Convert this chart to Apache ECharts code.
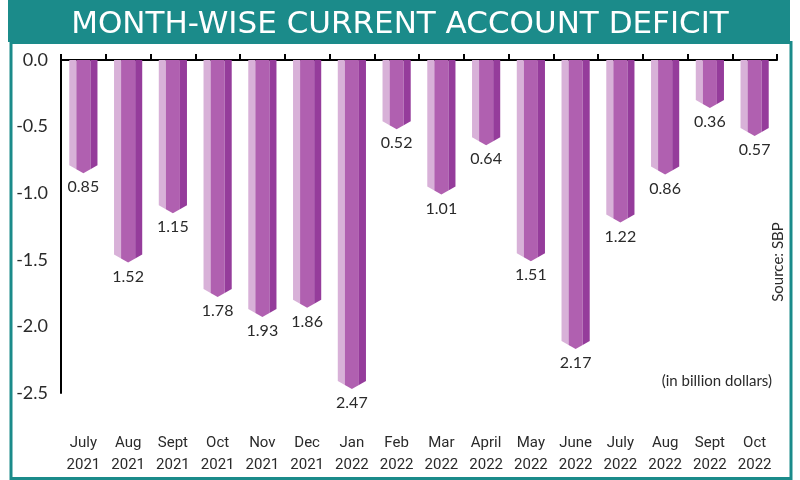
<!DOCTYPE html>
<html>
<head>
<meta charset="utf-8">
<script src="https://cdn.jsdelivr.net/npm/echarts@6/dist/echarts.min.js"></script>
<style>
  html, body { margin: 0; padding: 0; background: #fff; }
  #chart { width: 800px; height: 480px; }
</style>
</head>
<body>
<div id="chart"></div>
<script>
// month-wise current account deficit (billion dollars)
const months = ['July', 'Aug', 'Sept', 'Oct', 'Nov', 'Dec', 'Jan', 'Feb', 'Mar', 'April', 'May', 'June', 'July', 'Aug', 'Sept', 'Oct']
const years = ['2021', '2021', '2021', '2021', '2021', '2021', '2022', '2022', '2022', '2022', '2022', '2022', '2022', '2022', '2022', '2022']
const deficit = [0.85, 1.52, 1.15, 1.78, 1.93, 1.86, 2.47, 0.52, 1.01, 0.64, 1.51, 2.17, 1.22, 0.86, 0.36, 0.57]
const yTicks = [0, -0.5, -1, -1.5, -2, -2.5]

const teal = '#1b8b8a'
const light = '#d8b1d8'
const mid = '#b060b0'
const dark = '#953c9b'
const textColor = '#2a2a2a'
const font = "'Lato', 'Noto Sans', sans-serif"

const categories = months.map((m, i) => m + '\n' + years[i])

const chart = echarts.init(document.getElementById('chart'))

// 3D-looking bar hanging from zero with a pointed end
const renderBar = (params, api) => {
  const i = api.value(0)
  const v = api.value(1)
  const top = api.coord([i, 0])
  const bot = api.coord([i, v])
  const c = top[0]
  const w = api.size([1, 0])[0] * 0.63
  const h = w / 2
  const q = w / 4
  const y0 = top[1]
  const yv = bot[1]
  const d = 8
  const yEnd = yv - d
  const yQ = yEnd + d / 2
  return {
    type: 'group',
    children: [
      {
        type: 'polygon',
        shape: {points: [[c - h, y0], [c - q, y0], [c - q, yQ], [c - h, yEnd]]},
        style: {fill: light}
      },
      {
        type: 'polygon',
        shape: {points: [[c - q, y0], [c + q, y0], [c + q, yQ], [c, yv], [c - q, yQ]]},
        style: {fill: mid}
      },
      {
        type: 'polygon',
        shape: {points: [[c + q, y0], [c + h, y0], [c + h, yEnd], [c + q, yQ]]},
        style: {fill: dark}
      },
      {
        type: 'text',
        style: {
          text: Math.abs(v).toFixed(2),
          x: c,
          y: yv + 6,
          align: 'center',
          verticalAlign: 'top',
          fontSize: 16,
          fontFamily: font,
          fill: textColor
        }
      }
    ]
  }
}

const option = {
  animation: false,
  backgroundColor: '#fff',
  grid: {left: 61, right: 23, top: 60, bottom: 87},
  title: {
    text: 'MONTH-WISE CURRENT ACCOUNT DEFICIT',
    left: 'center',
    top: 4,
    textStyle: {color: '#fff', fontSize: 31, fontWeight: 'normal', fontFamily: "'DejaVu Sans', sans-serif"}
  },
  graphic: [
    {type: 'rect', left: 8, top: 0, z: -1, shape: {width: 782, height: 42}, style: {fill: teal}},
    {
      type: 'rect', left: 8.5, top: 40, z: -1, silent: true,
      shape: {width: 780, height: 436},
      style: {fill: 'none', stroke: teal, lineWidth: 3}
    },
    {
      type: 'text', right: 28, top: 374,
      style: {text: '(in billion dollars)', fontSize: 15, fontFamily: font, fill: textColor}
    },
    {
      type: 'text', x: 778, y: 262, rotation: Math.PI / 2,
      style: {text: 'Source: SBP', fontSize: 15, fontFamily: font, fill: textColor, align: 'center', verticalAlign: 'middle'}
    }
  ],
  xAxis: [
    {
      type: 'category',
      data: categories,
      position: 'top',
      axisLine: {show: true, lineStyle: {color: '#000', width: 2}},
      axisTick: {show: true, inside: false, length: 6, lineStyle: {color: '#000', width: 2}},
      axisLabel: {show: false},
      splitLine: {show: false}
    },
    {
      type: 'category',
      data: categories,
      position: 'bottom',
      axisLine: {show: false},
      axisTick: {show: false},
      axisLabel: {
        margin: 39,
        interval: 0,
        fontSize: 15,
        lineHeight: 22,
        color: textColor,
        fontFamily: "'Liberation Sans Narrow', 'Roboto', sans-serif"
      }
    }
  ],
  yAxis: {
    type: 'value',
    min: -2.5,
    max: 0,
    interval: 0.5,
    axisLine: {show: true, lineStyle: {color: '#000', width: 2}},
    axisTick: {show: false},
    splitLine: {show: false},
    axisLabel: {
      margin: 13,
      fontSize: 18,
      color: textColor,
      fontFamily: font,
      formatter: (val) => yTicks.includes(val) ? val.toFixed(1) : ''
    }
  },
  series: [
    {
      type: 'custom',
      xAxisIndex: 0,
      renderItem: renderBar,
      data: deficit.map((d, i) => [i, -d]),
      clip: false
    }
  ]
}

chart.setOption(option)
</script>
</body>
</html>
